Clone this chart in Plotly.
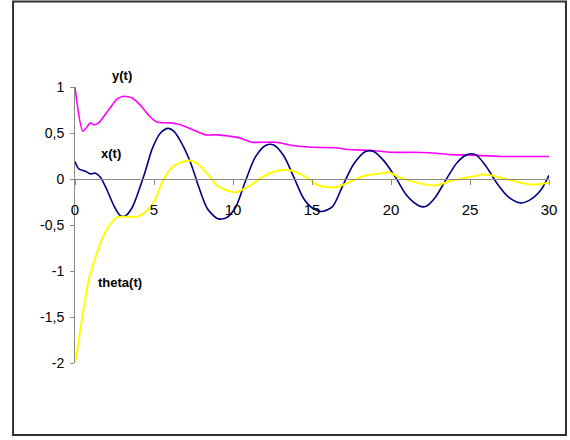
import plotly.graph_objects as go

# ---- data ----
t_y = [0, 0.5, 0.98, 1.19, 1.5, 2.04, 2.67, 3.09, 3.62, 4.15, 4.67, 5.16, 6.04, 6.68, 7.52,
       8.26, 9.0, 9.8, 10.37, 11.2, 12.7, 13.75, 15.0, 16.5, 17.3, 18.8, 20.0, 21.3, 22.4,
       23.9, 25.1, 27.0, 30.0]
y_vals = [1.0, 0.52, 0.61, 0.59, 0.61, 0.73, 0.87, 0.90, 0.88, 0.80, 0.69, 0.62, 0.61, 0.59,
          0.53, 0.48, 0.48, 0.465, 0.45, 0.40, 0.40, 0.365, 0.345, 0.34, 0.32, 0.31, 0.29,
          0.29, 0.285, 0.265, 0.26, 0.245, 0.245]

t_x = [0, 0.24, 0.66, 0.98, 1.3, 1.61, 2.04, 2.46, 2.88, 3.2, 3.62, 4.04, 4.46, 4.89, 5.41,
       5.9, 6.25, 6.78, 7.31, 7.84, 8.37, 9.0, 9.3, 9.6, 10.16, 10.8, 11.42, 12.06, 12.58,
       13.2, 13.85, 14.48, 15.1, 15.65, 16.3, 16.9, 17.65, 18.39, 18.9, 19.54, 20.28, 21.0,
       21.76, 22.18, 22.8, 23.45, 24.19, 24.82, 25.35, 25.98, 26.72, 27.46, 28.2, 28.72,
       29.46, 30.0]
x_vals = [0.19, 0.11, 0.085, 0.056, 0.063, 0.02, -0.125, -0.29, -0.40, -0.40, -0.31, -0.125,
          0.09, 0.33, 0.50, 0.55, 0.52, 0.38, 0.18, -0.09, -0.32, -0.43, -0.435, -0.42, -0.31,
          -0.016, 0.24, 0.364, 0.37, 0.255, 0.02, -0.215, -0.325, -0.353, -0.30, -0.09, 0.165,
          0.30, 0.30, 0.20, 0.02, -0.18, -0.29, -0.30, -0.20, -0.016, 0.18, 0.265, 0.265,
          0.147, -0.05, -0.20, -0.26, -0.235, -0.125, 0.04]

t_theta = [0, 0.24, 0.56, 0.87, 1.3, 1.82, 2.35, 2.67, 3.3, 3.94, 4.46, 4.99, 5.52, 6.04,
           6.68, 7.2, 7.73, 8.37, 9.0, 9.63, 10.16, 11.0, 11.85, 12.7, 13.75, 14.6, 15.43,
           16.5, 17.33, 18.39, 19.23, 19.86, 20.5, 21.76, 22.8, 23.87, 25.14, 25.98, 26.82,
           28.09, 28.9, 30.0]
theta_vals = [-2.0, -1.755, -1.39, -1.10, -0.85, -0.61, -0.47, -0.415, -0.41, -0.41, -0.36,
              -0.25, -0.035, 0.11, 0.18, 0.20, 0.17, 0.056, -0.07, -0.125, -0.143, -0.08,
              0.02, 0.085, 0.09, 0.02, -0.07, -0.09, -0.035, 0.038, 0.056, 0.074, 0.02,
              -0.045, -0.07, -0.016, 0.027, 0.049, 0.02, -0.035, -0.06, -0.04]

x_tickvals = [0, 5, 10, 15, 20, 25, 30]
x_ticktext = ["0", "5", "10", "15", "20", "25", "30"]
y_tickvals = [-2, -1.5, -1, -0.5, 0, 0.5, 1]
y_ticktext = ["-2", "-1,5", "-1", "-0,5", "0", "0,5", "1"]

series_labels = ["y(t)", "x(t)", "theta(t)"]
label_pos = [(3.0, 1.125), (2.31, 0.277), (2.82, -1.125)]

X_RANGE = [0, 30]
Y_RANGE = [-2, 1]

FONT = "Liberation Sans, Arial, sans-serif"
AXIS_GREY = "#8a8a8a"

fig = go.Figure()
fig.add_trace(go.Scatter(x=t_y, y=y_vals, mode="lines",
                         line=dict(color="#FF00FF", width=1.6, shape="spline", smoothing=0.6),
                         name=series_labels[0]))
fig.add_trace(go.Scatter(x=t_x, y=x_vals, mode="lines",
                         line=dict(color="#000080", width=1.6, shape="spline", smoothing=0.8),
                         name=series_labels[1]))
fig.add_trace(go.Scatter(x=t_theta, y=theta_vals, mode="lines",
                         line=dict(color="#FFFF00", width=2, shape="spline", smoothing=0.8),
                         name=series_labels[2]))

for txt, (ax_, ay_) in zip(series_labels, label_pos):
    px_ = (ax_ - X_RANGE[0]) / (X_RANGE[1] - X_RANGE[0])
    py_ = (ay_ - Y_RANGE[0]) / (Y_RANGE[1] - Y_RANGE[0])
    fig.add_annotation(x=px_, y=py_, xref="paper", yref="paper", text="<b>%s</b>" % txt,
                       xanchor="center", yanchor="middle",
                       showarrow=False, font=dict(family=FONT, size=13, color="#000000"))

L, R, T, B = 74.5, 21, 87, 77
W, H = 570, 440
pw, ph = W - L - R, H - T - B
# outer frame (pixel positions converted to paper fractions)
fx0, fx1, fy_top, fy_bot = 12.5, 566, 1.5, 435
fig.add_shape(type="rect", xref="paper", yref="paper",
              x0=(fx0 - L) / pw, x1=(fx1 - L) / pw,
              y0=(H - B - fy_bot) / ph, y1=(H - B - fy_top) / ph,
              line=dict(color="#303030", width=2), fillcolor="rgba(0,0,0,0)", layer="below")

fig.update_layout(
    width=W, height=H, autosize=False,
    margin=dict(l=L, r=R, t=T, b=B, pad=0),
    paper_bgcolor="white", plot_bgcolor="white",
    showlegend=False,
    font=dict(family=FONT, size=14, color="#000000"),
    xaxis=dict(range=X_RANGE, tickvals=x_tickvals, ticktext=x_ticktext,
               showgrid=False, zeroline=False, showline=True, linecolor=AXIS_GREY,
               linewidth=1, ticks="outside", ticklen=5, tickcolor=AXIS_GREY,
               anchor="free", position=2 / 3, ticklabelstandoff=12,
               tickfont=dict(family=FONT, size=15)),
    yaxis=dict(range=Y_RANGE, tickvals=y_tickvals, ticktext=y_ticktext,
               showgrid=False, zeroline=False, showline=True, linecolor=AXIS_GREY,
               linewidth=1, ticks="outside", ticklen=4, tickcolor=AXIS_GREY,
               ticklabelstandoff=3,
               tickfont=dict(family=FONT, size=14)),
)

fig.write_html("out.html", config={"displayModeBar": False},
               post_script="document.body.style.margin='0';")
